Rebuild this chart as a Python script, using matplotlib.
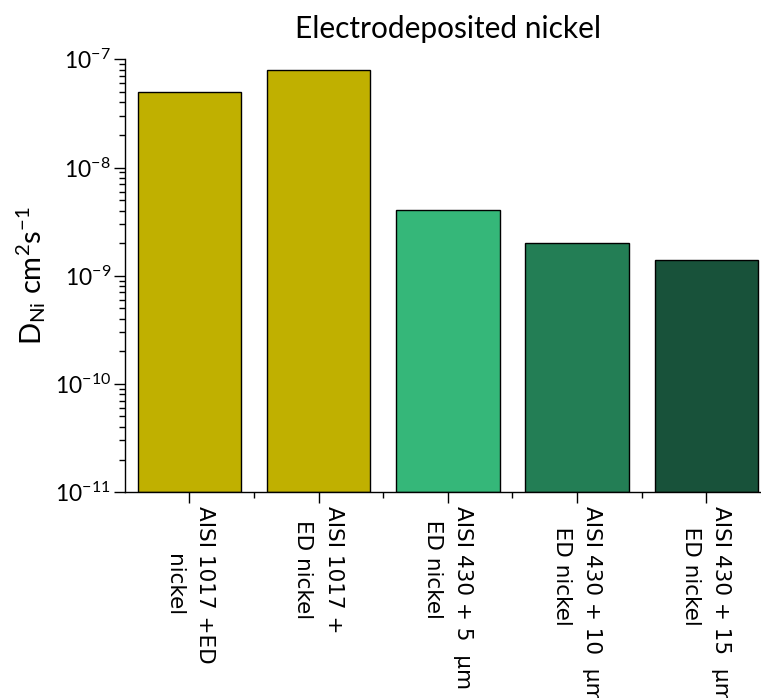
import numpy as np
import matplotlib
matplotlib.use("Agg")
import matplotlib.pyplot as plt
from matplotlib.ticker import LogLocator, NullFormatter, FixedLocator

plt.rcParams['mathtext.fontset'] = 'custom'
plt.rcParams['mathtext.rm'] = 'Lato'
plt.rcParams['mathtext.it'] = 'Lato:italic'
plt.rcParams['mathtext.bf'] = 'Lato:bold'

labels = [
    "AISI 1017 +ED\nnickel",
    "AISI 1017 +\nED nickel",
    "AISI 430 + 5  \u00b5m\n  ED nickel",
    "AISI 430 + 10  \u00b5m\n   ED nickel",
    "AISI 430 + 15  \u00b5m\n   ED nickel",
]
diffusion = [5.0e-8, 8.0e-8, 4.0e-9, 2.0e-9, 1.4e-9]
colors = ["#c0b000", "#c0b000", "#35b779", "#237e55", "#18523a"]
align = ["center", "center", "left", "left", "left"]

fig = plt.figure(figsize=(7.61, 6.98), dpi=100)
ax = fig.add_axes([0.164, 0.295, 0.849, 0.620])

x = np.arange(1, len(labels) + 1)
ax.bar(x, diffusion, width=0.8, color=colors, edgecolor="black", linewidth=1.0, bottom=1e-11)

ax.set_yscale("log")
ax.set_ylim(1e-11, 1e-7)
ax.set_xlim(0.5, 5.5)

ax.spines["top"].set_visible(False)
ax.spines["right"].set_visible(False)
ax.spines["left"].set_linewidth(1.0)
ax.spines["bottom"].set_linewidth(1.0)

ax.yaxis.set_major_locator(LogLocator(base=10, numticks=10))
ax.yaxis.set_minor_locator(LogLocator(base=10, subs=np.arange(2, 10), numticks=20))
ax.yaxis.set_minor_formatter(NullFormatter())
ax.tick_params(axis="y", which="major", direction="out", length=8, width=1, labelsize=16.5, pad=2)
ax.tick_params(axis="y", which="minor", direction="out", length=4, width=1)
for t in ax.get_yticklabels():
    t.set_fontfamily("Lato")

ax.set_xticks(x)
ax.set_xticklabels(labels, rotation=-90, ha="center", va="top", fontsize=15.5,
                   family="DejaVu Sans", linespacing=1.65)
for t, a in zip(ax.get_xticklabels(), align):
    t.set_multialignment(a)
ax.xaxis.set_minor_locator(FixedLocator(x[:-1] + 0.5))
ax.tick_params(axis="x", which="major", direction="out", length=8, width=1, pad=2)
ax.tick_params(axis="x", which="minor", direction="out", length=4, width=1)

ax.set_ylabel(r"D$_{\rm Ni}$ cm$^{2}$s$^{-1}$", fontsize=21, family="Lato")
ax.yaxis.set_label_coords(-0.145, 0.5)
ax.yaxis.label.set_va("center")
ax.set_title("Electrodeposited nickel", fontsize=21.5, family="Lato", pad=15)

fig.savefig("out.png", dpi=100)
